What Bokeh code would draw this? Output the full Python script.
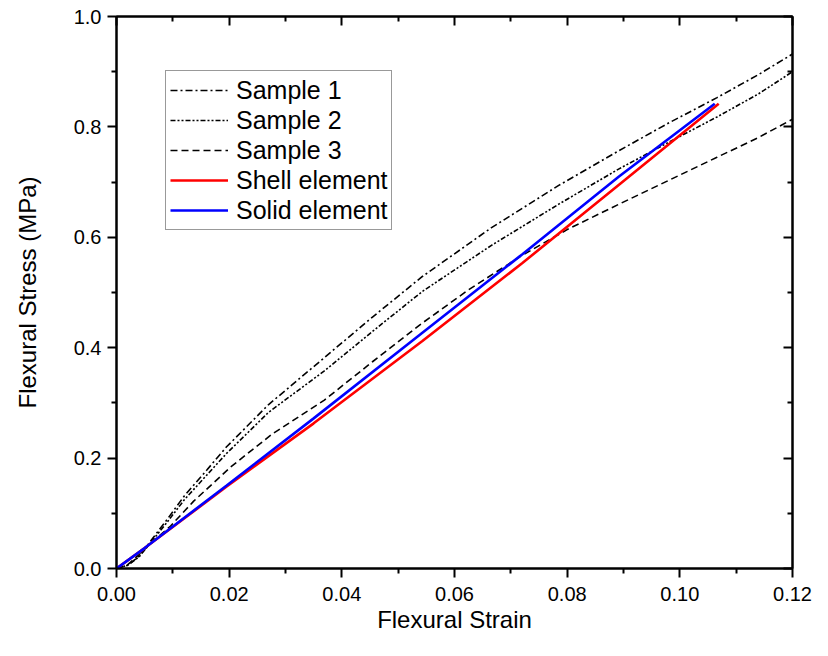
from bokeh.plotting import figure
from bokeh.models import (LinearAxis, FixedTicker, NumeralTickFormatter, Legend,
                          LegendItem, Range1d)
from bokeh.embed import file_html
from bokeh.resources import INLINE

# ---------------- data ----------------
sample_x = [0, 0.002, 0.004, 0.006, 0.009, 0.012, 0.016, 0.0195, 0.027, 0.0369,
            0.0455, 0.0543, 0.0665, 0.0785, 0.0892, 0.098, 0.1066, 0.114, 0.12]
sample1_y = [0, 0.006, 0.022, 0.049, 0.089, 0.131, 0.178, 0.220, 0.297, 0.382,
             0.456, 0.529, 0.617, 0.694, 0.757, 0.807, 0.853, 0.895, 0.932]
sample2_y = [0, 0.006, 0.021, 0.046, 0.084, 0.124, 0.169, 0.208, 0.283, 0.358,
             0.430, 0.502, 0.585, 0.660, 0.724, 0.772, 0.818, 0.860, 0.900]

sample3_x = [0, 0.002, 0.004, 0.006, 0.0096, 0.0137, 0.0204, 0.0277, 0.0369, 0.0455,
             0.0538, 0.0625, 0.0718, 0.080, 0.0892, 0.098, 0.1066, 0.114, 0.12]
sample3_y = [0, 0.007, 0.025, 0.045, 0.077, 0.122, 0.185, 0.244, 0.305, 0.375,
             0.441, 0.505, 0.566, 0.614, 0.660, 0.703, 0.745, 0.781, 0.814]

shell_x = [0, 0.005, 0.0195, 0.035, 0.0543, 0.072, 0.0892, 0.1069]
shell_y = [0, 0.037, 0.148, 0.263, 0.412, 0.553, 0.695, 0.842]

solid_x = [0, 0.005, 0.0195, 0.035, 0.0543, 0.072, 0.0892, 0.1062]
solid_y = [0, 0.037, 0.150, 0.272, 0.427, 0.569, 0.710, 0.842]

x_ticks = [0.0, 0.02, 0.04, 0.06, 0.08, 0.10, 0.12]
x_minor = [0.01, 0.03, 0.05, 0.07, 0.09, 0.11]
y_ticks = [0.0, 0.2, 0.4, 0.6, 0.8, 1.0]
y_minor = [0.1, 0.3, 0.5, 0.7, 0.9]

FONT = "Liberation Sans"

p = figure(width=812, height=640, output_backend="svg", toolbar_location=None,
           x_range=Range1d(0, 0.12), y_range=Range1d(0, 1.0),
           min_border_left=116, min_border_right=20, min_border_top=16,
           min_border_bottom=72,
           x_axis_label="Flexural Strain", y_axis_label="Flexural Stress (MPa)")
p.grid.visible = False
p.outline_line_color = "black"
p.outline_line_width = 2
p.background_fill_color = "white"
p.border_fill_color = "white"


def style_axis(ax, ticks, minor, fmt, labels=True, inward=False):
    ax.ticker = FixedTicker(ticks=ticks, minor_ticks=minor)
    ax.formatter = NumeralTickFormatter(format=fmt)
    ax.axis_line_width = 2
    ax.axis_line_color = "black"
    ax.major_tick_line_width = 2
    ax.minor_tick_line_width = 2
    ax.major_tick_line_color = "black"
    ax.minor_tick_line_color = "black"
    if inward:
        ax.major_tick_in, ax.major_tick_out = 9, 0
        ax.minor_tick_in, ax.minor_tick_out = 5, 0
    else:
        ax.major_tick_in, ax.major_tick_out = 0, 9
        ax.minor_tick_in, ax.minor_tick_out = 0, 5
    ax.major_label_text_font = FONT
    ax.axis_label_text_font = FONT
    ax.axis_label_text_font_style = "normal"
    ax.axis_label_text_color = "black"
    if labels:
        ax.major_label_text_color = "black"
        ax.major_label_text_font_size = "20px"
        ax.axis_label_text_font_size = "24px"
    else:
        ax.major_label_text_color = None
        ax.major_label_text_font_size = "0px"
        ax.major_label_standoff = 0


xb = p.xaxis[0]
style_axis(xb, x_ticks, x_minor, "0.00")
xb.major_label_standoff = 9
xb.axis_label_standoff = 2

yl = p.yaxis[0]
style_axis(yl, y_ticks, y_minor, "0.0")
yl.major_label_standoff = 6
yl.axis_label_standoff = 30

xt = LinearAxis()
style_axis(xt, x_ticks, x_minor, "0.00", labels=False, inward=True)
p.add_layout(xt, "above")
yr = LinearAxis()
style_axis(yr, y_ticks, y_minor, "0.0", labels=False, inward=True)
p.add_layout(yr, "right")

r1 = p.line(sample_x, sample1_y, line_color="black", line_width=1.6, line_dash="7 3 2 3")
r2 = p.line(sample_x, sample2_y, line_color="black", line_width=1.6, line_dash="5 2 2 2 2 2")
r3 = p.line(sample3_x, sample3_y, line_color="black", line_width=1.6, line_dash="7 4")
r4 = p.line(shell_x, shell_y, line_color="#ff0000", line_width=2.6)
r5 = p.line(solid_x, solid_y, line_color="#0000ff", line_width=2.6)

legend = Legend(items=[
    LegendItem(label="Sample 1", renderers=[r1]),
    LegendItem(label="Sample 2", renderers=[r2]),
    LegendItem(label="Sample 3", renderers=[r3]),
    LegendItem(label="Shell element", renderers=[r4]),
    LegendItem(label="Solid element", renderers=[r5]),
], location=(49, 338))
legend.border_line_color = "#333333"
legend.border_line_width = 1
legend.background_fill_alpha = 1
legend.label_text_font = FONT
legend.label_text_font_size = "25px"
legend.label_text_color = "black"
legend.glyph_width = 58
legend.glyph_height = 30
legend.label_height = 30
legend.spacing = 0
legend.padding = 4
legend.margin = 0
legend.label_standoff = 8
p.add_layout(legend)

open("out.html", "w").write(file_html(p, INLINE))
